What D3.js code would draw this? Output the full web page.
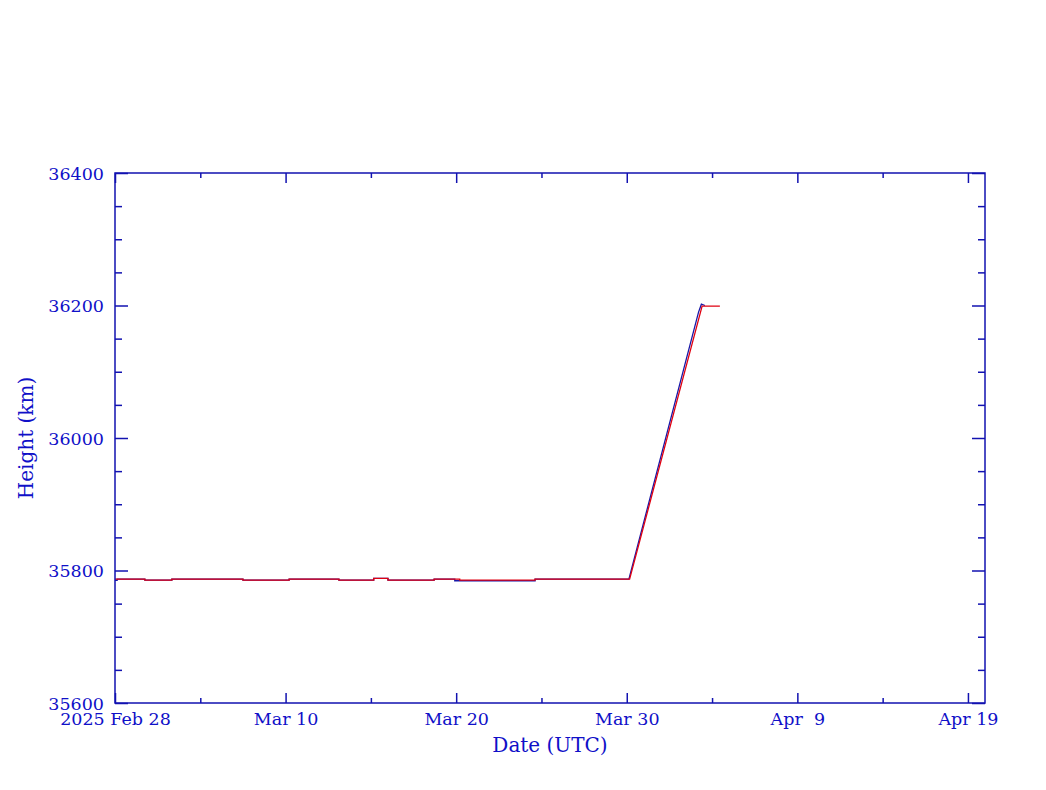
<!DOCTYPE html>
<html>
<head>
<meta charset="utf-8">
<script src="https://cdn.jsdelivr.net/npm/d3@7"></script>
<style>
  html, body { margin: 0; padding: 0; background: #fff; }
  svg text { font-family: "DejaVu Serif", "Liberation Serif", serif; fill: #1010c8; white-space: pre; }
</style>
</head>
<body>
<svg id="chart" width="1046" height="790"></svg>
<script>
// ---- data ----
const xDomain = ["2025-02-28T00:00Z", "2025-04-20T00:00Z"];
const yDomain = [35600, 36400];
const xMajorTicks = ["2025-02-28T00:00Z", "2025-03-10T00:00Z", "2025-03-20T00:00Z", "2025-03-30T00:00Z", "2025-04-09T00:00Z", "2025-04-19T00:00Z"];
const xTickLabels = ["2025 Feb 28", "Mar 10", "Mar 20", "Mar 30", "Apr  9", "Apr 19"];
const xMinorTicks = ["2025-03-05T00:00Z", "2025-03-15T00:00Z", "2025-03-25T00:00Z", "2025-04-04T00:00Z", "2025-04-14T00:00Z"];
const yMajorTicks = [35600, 35800, 36000, 36200, 36400];
const yMinorStep = 50;

// blue series (times, heights)
const blueTimes = ["2025-02-28T00:00Z", "2025-02-28T03:00Z", "2025-02-28T03:00Z", "2025-03-01T18:00Z", "2025-03-01T18:00Z", "2025-03-03T08:00Z", "2025-03-03T08:00Z", "2025-03-07T12:00Z", "2025-03-07T12:00Z", "2025-03-10T05:00Z", "2025-03-10T05:00Z", "2025-03-13T03:00Z", "2025-03-13T03:00Z", "2025-03-15T04:00Z", "2025-03-15T04:00Z", "2025-03-16T00:00Z", "2025-03-16T00:00Z", "2025-03-18T17:00Z", "2025-03-18T17:00Z", "2025-03-19T22:00Z", "2025-03-19T22:00Z", "2025-03-24T15:00Z", "2025-03-24T15:00Z", "2025-03-30T03:00Z", "2025-04-03T05:00Z", "2025-04-03T09:00Z", "2025-04-03T14:00Z"];
const blueHeights = [35785, 35785, 35787, 35787, 35785.5, 35785.5, 35787, 35787, 35785.5, 35785.5, 35787, 35787, 35785.5, 35785.5, 35788, 35788, 35785.5, 35785.5, 35787, 35787, 35784.5, 35784.5, 35787, 35787, 36190, 36202, 36200];

// red series
const redTimes = ["2025-02-28T00:00Z", "2025-03-01T18:00Z", "2025-03-01T18:00Z", "2025-03-03T08:00Z", "2025-03-03T08:00Z", "2025-03-07T12:00Z", "2025-03-07T12:00Z", "2025-03-10T05:00Z", "2025-03-10T05:00Z", "2025-03-13T03:00Z", "2025-03-13T03:00Z", "2025-03-15T04:00Z", "2025-03-15T04:00Z", "2025-03-16T00:00Z", "2025-03-16T00:00Z", "2025-03-18T17:00Z", "2025-03-18T17:00Z", "2025-03-20T05:00Z", "2025-03-20T05:00Z", "2025-03-24T15:00Z", "2025-03-24T15:00Z", "2025-03-30T04:00Z", "2025-04-03T10:00Z", "2025-04-04T11:00Z"];
const redHeights = [35787, 35787, 35785.5, 35785.5, 35787, 35787, 35785.5, 35785.5, 35787, 35787, 35785.5, 35785.5, 35788, 35788, 35785.5, 35785.5, 35787, 35787, 35785.5, 35785.5, 35787, 35787, 36199, 36199];

// ---- layout ----
const margin = {left: 115, top: 173, right: 1046 - 985, bottom: 790 - 703};
const W = 1046, H = 790;
const axisColor = "#1212b0";
const textColor = "#1010c8";

const svg = d3.select("#chart");
const x = d3.scaleUtc().domain(xDomain.map(d => new Date(d))).range([margin.left, W - margin.right]);
const y = d3.scaleLinear().domain(yDomain).range([H - margin.bottom, margin.top]);

const yMinor = d3.range(yDomain[0], yDomain[1] + 1, yMinorStep).filter(v => !yMajorTicks.includes(v));

const g = svg.append("g");

// series
const line = d3.line().x(d => x(d[0])).y(d => y(d[1]));
const blueData = blueTimes.map((t, i) => [new Date(t), blueHeights[i]]);
const redData = redTimes.map((t, i) => [new Date(t), redHeights[i]]);
g.append("path").datum(blueData).attr("d", line).attr("fill", "none").attr("stroke", "#1818a8").attr("stroke-width", 1.3);
g.append("path").datum(redData).attr("d", line).attr("fill", "none").attr("stroke", "#e00010").attr("stroke-width", 1.3);

// axes with inward ticks
const x0 = margin.left, x1 = W - margin.right, y0 = H - margin.bottom, y1 = margin.top;
function addAxis(axis, transform) {
  const a = g.append("g").attr("transform", transform).call(axis);
  a.select(".domain").remove();
  a.selectAll("line").attr("stroke", axisColor).attr("stroke-width", 1.5);
  return a;
}
const xMaj = xMajorTicks.map(d => new Date(d));
const xMin = xMinorTicks.map(d => new Date(d));
// bottom
const bottom = addAxis(d3.axisBottom(x).tickValues(xMaj).tickSize(-10).tickFormat((d, i) => xTickLabels[i]), `translate(0,${y0})`);
bottom.selectAll("text").attr("font-size", 17.5).attr("fill", textColor).attr("font-family", '"DejaVu Serif", serif').attr("dy", "0.55em").attr("y", 12);
addAxis(d3.axisBottom(x).tickValues(xMin).tickSize(-5).tickFormat(""), `translate(0,${y0})`);
// top
addAxis(d3.axisTop(x).tickValues(xMaj).tickSize(-10).tickFormat(""), `translate(0,${y1})`);
addAxis(d3.axisTop(x).tickValues(xMin).tickSize(-5).tickFormat(""), `translate(0,${y1})`);
// left
const left = addAxis(d3.axisLeft(y).tickValues(yMajorTicks).tickSize(-13).tickFormat(d3.format("d")), `translate(${x0},0)`);
left.selectAll("text").attr("font-size", 17.5).attr("fill", textColor).attr("font-family", '"DejaVu Serif", serif').attr("x", -11).attr("dy", "0.36em");
addAxis(d3.axisLeft(y).tickValues(yMinor).tickSize(-7).tickFormat(""), `translate(${x0},0)`);
// right
addAxis(d3.axisRight(y).tickValues(yMajorTicks).tickSize(-13).tickFormat(""), `translate(${x1},0)`);
addAxis(d3.axisRight(y).tickValues(yMinor).tickSize(-7).tickFormat(""), `translate(${x1},0)`);

// frame
g.append("rect").attr("x", x0).attr("y", y1).attr("width", x1 - x0).attr("height", y0 - y1)
  .attr("fill", "none").attr("stroke", axisColor).attr("stroke-width", 1.5);

// titles
svg.append("text").attr("x", (x0 + x1) / 2).attr("y", 752).attr("text-anchor", "middle")
  .attr("font-size", 20).text("Date (UTC)");
svg.append("text").attr("transform", `translate(33,${(y0 + y1) / 2}) rotate(-90)`).attr("text-anchor", "middle")
  .attr("font-size", 20).text("Height (km)");
</script>
</body>
</html>
